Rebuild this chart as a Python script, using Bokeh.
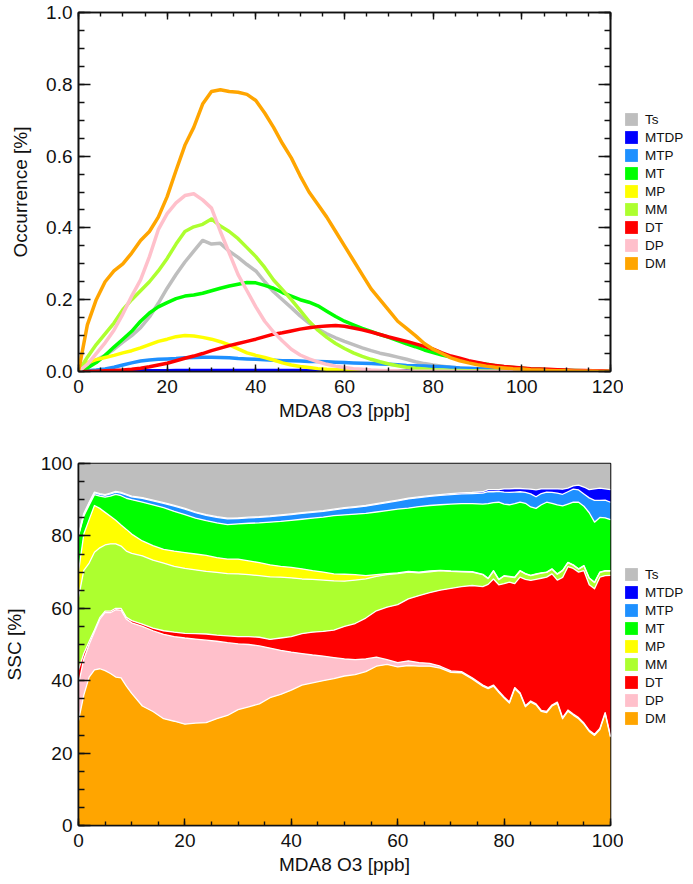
from bokeh.plotting import figure
from bokeh.layouts import column, row
from bokeh.models import (Range1d, SingleIntervalTicker, LinearAxis, Legend, LegendItem,
                          PrintfTickFormatter, CustomJSTickFormatter)
from bokeh.embed import file_html
from bokeh.resources import INLINE

FONT = "Liberation Sans"

classes = ["Ts", "MTDP", "MTP", "MT", "MP", "MM", "DT", "DP", "DM"]
colors = {"Ts": "#bebebe", "MTDP": "#0000ff", "MTP": "#1e90ff", "MT": "#00ff00",
          "MP": "#ffff00", "MM": "#adff2f", "DT": "#ff0000", "DP": "#ffc0cb", "DM": "#ffa500"}

# ---------------- top panel: occurrence [%] vs MDA8 O3 (0..120 ppb, every 2 ppb)
x_occ = list(range(0, 121, 2))
occ_DM = [0.0, 0.13, 0.20, 0.25, 0.28, 0.30, 0.33, 0.365, 0.39, 0.43,
          0.487, 0.56, 0.63, 0.68, 0.745, 0.78, 0.785, 0.78, 0.778, 0.772,
          0.755, 0.72, 0.68, 0.635, 0.595, 0.545, 0.50, 0.465, 0.43, 0.39,
          0.35, 0.31, 0.27, 0.23, 0.20, 0.17, 0.14, 0.12, 0.10, 0.078,
          0.062, 0.05, 0.038, 0.03, 0.024, 0.019, 0.015, 0.012, 0.01, 0.008,
          0.007, 0.005, 0.004, 0.003, 0.002, 0.002, 0.001, 0.001, 0.001, 0.0,
          0.0]
occ_DP = [0.0, 0.02, 0.05, 0.08, 0.115, 0.16, 0.21, 0.255, 0.32, 0.395,
          0.44, 0.47, 0.49, 0.495, 0.478, 0.455, 0.39, 0.33, 0.27, 0.225,
          0.18, 0.14, 0.11, 0.085, 0.062, 0.046, 0.035, 0.027, 0.02, 0.015,
          0.011, 0.008, 0.006, 0.004, 0.003, 0.002, 0.002, 0.001, 0.001, 0.001,
          0.001, 0.001, 0.001, 0.0, 0.0, 0.0, 0.0, 0.0, 0.0, 0.0,
          0.0, 0.0, 0.0, 0.0, 0.0, 0.0, 0.0, 0.0, 0.0, 0.0,
          0.0]
occ_DT = [0.0, 0.0, 0.001, 0.002, 0.003, 0.004, 0.006, 0.009, 0.013, 0.018,
          0.023, 0.03, 0.037, 0.043, 0.05, 0.058, 0.065, 0.072, 0.078, 0.084,
          0.09, 0.097, 0.104, 0.108, 0.113, 0.118, 0.122, 0.125, 0.127, 0.128,
          0.126, 0.121, 0.116, 0.11, 0.103, 0.096, 0.09, 0.084, 0.077, 0.07,
          0.062, 0.052, 0.043, 0.037, 0.03, 0.025, 0.02, 0.017, 0.014, 0.012,
          0.01, 0.008, 0.007, 0.006, 0.005, 0.004, 0.003, 0.003, 0.002, 0.002,
          0.001]
occ_MM = [0.0, 0.04, 0.075, 0.105, 0.135, 0.172, 0.2, 0.225, 0.25, 0.28,
          0.315, 0.355, 0.39, 0.403, 0.41, 0.425, 0.405, 0.39, 0.37, 0.345,
          0.32, 0.29, 0.255, 0.228, 0.2, 0.17, 0.14, 0.115, 0.095, 0.078,
          0.064, 0.052, 0.042, 0.034, 0.027, 0.021, 0.016, 0.012, 0.009, 0.007,
          0.005, 0.004, 0.003, 0.003, 0.002, 0.002, 0.001, 0.001, 0.001, 0.001,
          0.0, 0.0, 0.0, 0.0, 0.0, 0.0, 0.0, 0.0, 0.0, 0.0,
          0.0]
occ_MP = [0.0, 0.025, 0.033, 0.039, 0.045, 0.052, 0.058, 0.066, 0.075, 0.084,
          0.09, 0.097, 0.1, 0.099, 0.095, 0.09, 0.083, 0.074, 0.063, 0.052,
          0.045, 0.039, 0.032, 0.024, 0.018, 0.014, 0.011, 0.008, 0.006, 0.005,
          0.004, 0.003, 0.002, 0.002, 0.001, 0.001, 0.001, 0.0, 0.0, 0.0,
          0.0, 0.0, 0.0, 0.0, 0.0, 0.0, 0.0, 0.0, 0.0, 0.0,
          0.0, 0.0, 0.0, 0.0, 0.0, 0.0, 0.0, 0.0, 0.0, 0.0,
          0.0]
occ_MT = [0.0, 0.01, 0.025, 0.045, 0.068, 0.09, 0.112, 0.14, 0.163, 0.18,
          0.192, 0.203, 0.21, 0.213, 0.218, 0.225, 0.232, 0.238, 0.243, 0.248,
          0.247, 0.24, 0.232, 0.22, 0.21, 0.2, 0.193, 0.183, 0.168, 0.153,
          0.14, 0.13, 0.12, 0.112, 0.103, 0.095, 0.086, 0.077, 0.069, 0.06,
          0.053, 0.046, 0.04, 0.034, 0.028, 0.024, 0.02, 0.016, 0.013, 0.011,
          0.009, 0.007, 0.006, 0.005, 0.004, 0.003, 0.003, 0.002, 0.002, 0.001,
          0.001]
occ_MTP = [0.0, 0.002, 0.004, 0.007, 0.012, 0.018, 0.024, 0.029, 0.032, 0.034,
           0.035, 0.036, 0.038, 0.039, 0.04, 0.04, 0.039, 0.038, 0.036, 0.035,
           0.034, 0.033, 0.031, 0.03, 0.03, 0.029, 0.028, 0.028, 0.027, 0.026,
           0.025, 0.024, 0.023, 0.022, 0.021, 0.02, 0.019, 0.017, 0.016, 0.015,
           0.014, 0.013, 0.012, 0.01, 0.009, 0.008, 0.007, 0.006, 0.005, 0.004,
           0.003, 0.002, 0.002, 0.002, 0.001, 0.001, 0.001, 0.001, 0.0, 0.0,
           0.0]
occ_MTDP = [0.0, 0.0, 0.001, 0.001, 0.001, 0.001, 0.002, 0.002, 0.002, 0.002,
            0.002, 0.003, 0.003, 0.003, 0.003, 0.003, 0.003, 0.003, 0.003, 0.003,
            0.003, 0.003, 0.003, 0.003, 0.003, 0.003, 0.003, 0.003, 0.003, 0.003,
            0.003, 0.003, 0.003, 0.002, 0.002, 0.002, 0.002, 0.002, 0.002, 0.002,
            0.002, 0.002, 0.002, 0.001, 0.001, 0.001, 0.001, 0.001, 0.001, 0.001,
            0.001, 0.001, 0.001, 0.0, 0.0, 0.0, 0.0, 0.0, 0.0, 0.0,
            0.0]
occ_Ts = [0.0, 0.015, 0.032, 0.045, 0.062, 0.082, 0.1, 0.122, 0.152, 0.19,
          0.232, 0.27, 0.305, 0.335, 0.365, 0.355, 0.357, 0.335, 0.318, 0.298,
          0.28, 0.25, 0.222, 0.2, 0.178, 0.155, 0.135, 0.118, 0.105, 0.094,
          0.084, 0.075, 0.066, 0.058, 0.051, 0.046, 0.04, 0.034, 0.027, 0.022,
          0.018, 0.015, 0.012, 0.01, 0.008, 0.007, 0.006, 0.005, 0.004, 0.004,
          0.003, 0.003, 0.003, 0.002, 0.002, 0.002, 0.002, 0.001, 0.001, 0.001,
          0.001]

# ---------------- bottom panel: cumulative SSC share [%] (top edge of each stacked band)
x_ssc = [0, 1, 2, 3, 4, 5, 6, 7, 8, 9, 10,
         12, 14, 16, 18, 20, 22, 24, 26, 28, 30, 32, 34, 36, 38, 40, 42, 44, 46, 48,
         50, 52, 54, 56, 58, 60, 62, 64, 66, 68, 70, 72, 74, 76,
         77, 78, 79, 80, 81, 82, 83, 84, 85, 86, 87, 88, 89, 90, 91, 92, 93, 94, 95,
         96, 97, 98, 99, 100]
top_DM = [29.0, 36.0, 41.0, 43.0, 43.3, 42.8, 42.0, 41.0, 40.8, 38.5, 36.5,
          33.0, 31.5, 29.5, 28.8, 28.0, 28.3, 28.4, 29.5, 30.4, 32.0, 32.8, 33.6, 35.3, 36.2, 37.4,
          38.8, 39.4, 40.0, 40.6, 41.3, 41.7, 42.5, 44.0, 44.5, 43.8, 44.2, 44.0, 44.0, 43.5, 42.3,
          42.2, 40.5, 38.5,
          37.8, 38.5, 36.8, 35.2, 33.8, 37.8, 36.4, 32.8, 34.1, 33.3, 31.5, 31.2, 33.0, 33.8,
          29.5, 31.6, 30.5, 29.5, 28.0, 26.0, 24.9, 26.5, 30.9, 24.4]
top_DP = [39.0, 46.0, 50.0, 53.5, 57.0, 58.9, 58.8, 59.6, 59.5, 57.0, 56.0,
          55.0, 53.8, 52.8, 52.2, 51.8, 51.5, 51.2, 50.9, 50.5, 50.2, 50.0, 49.6, 49.0, 48.4, 47.9,
          47.5, 47.1, 46.8, 46.4, 46.0, 45.8, 46.0, 46.5, 45.8, 45.0, 45.5, 45.0, 44.8, 44.0, 42.7,
          42.5, 40.8, 38.8,
          38.1, 38.8, 37.1, 35.5, 34.1, 38.1, 36.7, 33.1, 34.4, 33.6, 31.8, 31.5, 33.3, 34.1,
          29.8, 31.9, 30.8, 29.8, 28.3, 26.3, 25.2, 26.8, 31.2, 24.7]
top_DT = [43.0, 47.5, 50.8, 54.0, 57.4, 59.2, 59.2, 60.0, 60.0, 57.5, 56.6,
          55.6, 54.5, 53.8, 53.4, 53.1, 53.0, 52.9, 52.6, 52.4, 52.2, 52.2, 52.0, 51.4, 51.8, 52.2,
          53.0, 53.4, 53.6, 54.0, 55.0, 55.8, 57.3, 59.3, 60.3, 61.0, 62.6, 63.5, 64.3, 65.0, 65.5,
          66.0, 66.3, 66.0,
          66.6, 68.1, 66.5, 66.8, 67.2, 66.8, 68.6, 68.0, 67.7, 68.0, 68.3, 68.6, 69.5, 67.8,
          68.5, 71.5, 71.0, 70.0, 70.4, 66.5, 65.4, 68.6, 69.0, 69.1]
top_MM = [63.0, 70.5, 72.5, 75.5, 76.7, 77.5, 77.8, 77.8, 77.2, 75.8, 75.2,
          74.5, 73.3, 72.5, 71.6, 71.0, 70.6, 70.2, 69.9, 69.6, 69.5, 69.3, 69.0, 68.7, 68.6, 68.4,
          68.1, 68.0, 67.8, 67.6, 67.5, 67.8, 68.1, 68.8, 69.3, 69.6, 70.0, 69.8, 70.1, 70.4, 70.2,
          70.1, 70.0, 69.3,
          68.2, 70.3, 67.9, 68.9, 68.7, 68.5, 70.3, 69.5, 69.0, 69.4, 69.7, 69.9, 70.8, 69.4,
          70.4, 72.6, 71.9, 70.8, 71.7, 68.3, 67.1, 69.9, 70.3, 70.3]
top_MP = [70.0, 80.5, 84.5, 88.4, 87.6, 86.5, 85.4, 84.3, 83.0, 81.8, 80.5,
          78.6, 77.3, 76.3, 75.8, 75.4, 75.0, 74.6, 74.0, 73.6, 73.6, 73.1, 72.6, 72.0, 71.6, 71.3,
          70.9, 70.4, 70.0, 69.5, 69.4, 69.3, 69.0, 69.3, 69.6, 69.8, 70.2, 70.0, 70.3, 70.5, 70.3,
          70.2, 70.1, 69.4,
          68.3, 70.4, 68.0, 69.0, 68.8, 68.6, 70.4, 69.6, 69.1, 69.5, 69.8, 70.0, 70.9, 69.5,
          70.5, 72.7, 72.0, 70.9, 71.8, 68.4, 67.2, 70.0, 70.4, 70.4]
top_MT = [80.0, 85.5, 88.5, 91.4, 91.0, 90.7, 91.0, 91.5, 91.1, 90.4, 90.0,
          89.3, 88.6, 87.8, 86.8, 85.9, 84.9, 84.2, 83.6, 83.1, 83.3, 83.5, 83.6, 83.8, 84.0, 84.3,
          84.6, 84.9, 85.2, 85.6, 85.8, 86.0, 86.2, 86.6, 87.0, 87.4, 87.7, 88.1, 88.4, 88.6, 88.8,
          88.9, 88.9, 88.8,
          88.9, 89.2, 89.3, 88.8, 88.6, 88.9, 89.3, 89.0, 88.0, 87.6, 88.6, 89.3, 89.0, 88.6,
          88.3, 88.8, 89.3, 89.3, 88.2, 86.4, 83.8, 85.1, 85.0, 84.5]
top_MTP = [80.2, 85.9, 89.0, 91.9, 91.5, 91.2, 91.6, 92.1, 91.8, 91.3, 90.8,
           90.4, 89.7, 89.0, 88.2, 87.4, 86.4, 85.7, 85.1, 84.7, 84.8, 85.0, 85.1, 85.3, 85.6, 85.9,
           86.2, 86.5, 86.8, 87.2, 87.6, 87.9, 88.2, 88.7, 89.2, 89.7, 90.2, 90.6, 90.9, 91.2, 91.4,
           91.6, 91.7, 91.8,
           92.2, 92.2, 92.3, 92.1, 92.0, 92.1, 92.2, 92.0, 91.6, 90.8, 91.7, 92.1, 92.0, 91.8,
           91.5, 92.2, 92.9, 92.7, 91.6, 90.5, 89.8, 89.8, 89.9, 89.3]
top_MTDP = [80.4, 86.2, 89.3, 92.1, 91.7, 91.4, 91.8, 92.3, 92.0, 91.5, 91.0,
            90.6, 89.9, 89.2, 88.4, 87.6, 86.6, 85.9, 85.3, 84.9, 85.0, 85.2, 85.3, 85.5, 85.8, 86.1,
            86.4, 86.7, 87.0, 87.4, 87.8, 88.1, 88.4, 88.9, 89.4, 89.9, 90.4, 90.8, 91.1, 91.4, 91.7,
            91.9, 92.0, 92.2,
            92.8, 92.8, 92.8, 93.0, 93.0, 93.1, 93.1, 93.0, 92.9, 92.7, 93.0, 93.0, 93.0, 93.0,
            92.9, 93.2, 93.8, 94.0, 93.5, 92.8, 93.0, 93.2, 93.0, 92.8]
top_Ts = [100.0] * len(x_ssc)


def style_axis(ax, major_in, minor_in):
    ax.major_tick_in = major_in
    ax.major_tick_out = 0
    ax.minor_tick_in = minor_in
    ax.minor_tick_out = 0
    ax.major_tick_line_color = "#111111"
    ax.minor_tick_line_color = "#111111"
    ax.major_tick_line_width = 1.4
    ax.minor_tick_line_width = 1.4
    ax.axis_line_color = "#111111"
    ax.axis_line_width = 1.6
    ax.major_label_text_font = FONT
    ax.major_label_text_font_size = "19px"
    ax.major_label_text_color = "#111111"
    ax.axis_label_text_font = FONT
    ax.axis_label_text_font_size = "19px"
    ax.axis_label_text_font_style = "normal"
    ax.axis_label_text_color = "#111111"


def blank_axis(ticker, major_in, minor_in):
    ax = LinearAxis(ticker=ticker, formatter=CustomJSTickFormatter(code="return ''"))
    style_axis(ax, major_in, minor_in)
    ax.major_label_text_font_size = "0px"
    ax.major_label_standoff = 0
    return ax


LEG_W = 70


def legend_figure(height, xr, yr, xs, series, loc):
    """A narrow side figure that only carries the legend (zero-height areas give square swatches)."""
    f = figure(width=LEG_W, height=height, x_range=xr, y_range=yr, x_axis_type=None, y_axis_type=None,
               output_backend="svg", toolbar_location=None,
               min_border_left=0, min_border_right=0, min_border_top=0, min_border_bottom=0)
    f.outline_line_color = None
    f.xgrid.visible = False
    f.ygrid.visible = False
    rends = {}
    for c in classes:
        rends[c] = f.varea(x=xs, y1=series[c], y2=series[c], fill_color=colors[c], fill_alpha=1.0)
    lg = Legend(items=[LegendItem(label=c, renderers=[rends[c]]) for c in classes],
                location=loc, margin=0, padding=0, spacing=2,
                glyph_width=16, glyph_height=16, label_height=16, label_standoff=6,
                label_text_font=FONT, label_text_font_size="13.5px",
                label_text_color="#111111", border_line_color=None,
                background_fill_alpha=0)
    f.add_layout(lg)
    return f


# ---------------- top figure
p1 = figure(width=693 - LEG_W, height=440, x_range=Range1d(0, 120), y_range=Range1d(0, 1),
            output_backend="svg", toolbar_location=None,
            min_border_left=78, min_border_right=693 - LEG_W - 610,
            min_border_top=12, min_border_bottom=69)
p1.xgrid.visible = False
p1.ygrid.visible = False
p1.outline_line_color = "#111111"
p1.outline_line_width = 1.6
p1.xaxis.ticker = SingleIntervalTicker(interval=20, num_minor_ticks=4)
p1.yaxis.ticker = SingleIntervalTicker(interval=0.2, num_minor_ticks=4)
p1.yaxis.formatter = PrintfTickFormatter(format="%.1f")
for ax in p1.xaxis:
    style_axis(ax, 7, 4)
    ax.axis_label = "MDA8 O3 [ppb]"
    ax.major_label_standoff = 8
    ax.axis_label_standoff = 4
for ax in p1.yaxis:
    style_axis(ax, 12, 6)
    ax.axis_label = "Occurrence [%]"
    ax.major_label_standoff = 6
    ax.axis_label_standoff = 12
p1.add_layout(blank_axis(SingleIntervalTicker(interval=20, num_minor_ticks=4), 7, 4), "above")
p1.add_layout(blank_axis(SingleIntervalTicker(interval=0.2, num_minor_ticks=4), 12, 6), "right")

occ = {"Ts": occ_Ts, "MTDP": occ_MTDP, "MTP": occ_MTP, "MT": occ_MT, "MP": occ_MP,
       "MM": occ_MM, "DT": occ_DT, "DP": occ_DP, "DM": occ_DM}
for c in ["Ts", "MTDP", "MTP", "MT", "MP", "MM", "DT", "DP", "DM"]:
    p1.line(x_occ, occ[c], line_color=colors[c], line_width=3.5, line_join="round")

l1 = legend_figure(440, Range1d(0, 120), Range1d(0, 1), x_occ, occ, (0, 100))

# ---------------- bottom figure
p2 = figure(width=693 - LEG_W, height=444, x_range=Range1d(0, 100), y_range=Range1d(0, 100),
            output_backend="svg", toolbar_location=None,
            min_border_left=78, min_border_right=693 - LEG_W - 610,
            min_border_top=23, min_border_bottom=59)
p2.xgrid.visible = False
p2.ygrid.visible = False
p2.outline_line_color = "#111111"
p2.outline_line_width = 1.6
p2.xaxis.ticker = SingleIntervalTicker(interval=20, num_minor_ticks=4)
p2.yaxis.ticker = SingleIntervalTicker(interval=20, num_minor_ticks=4)
for ax in p2.xaxis:
    style_axis(ax, 7, 4)
    ax.axis_label = "MDA8 O3 [ppb]"
    ax.major_label_standoff = 8
    ax.axis_label_standoff = 4
for ax in p2.yaxis:
    style_axis(ax, 12, 6)
    ax.axis_label = "SSC [%]"
    ax.major_label_standoff = 6
    ax.axis_label_standoff = 13

bands = [("DM", None, top_DM), ("DP", top_DM, top_DP), ("DT", top_DP, top_DT),
         ("MM", top_DT, top_MM), ("MP", top_MM, top_MP), ("MT", top_MP, top_MT),
         ("MTP", top_MT, top_MTP), ("MTDP", top_MTP, top_MTDP), ("Ts", top_MTDP, top_Ts)]
for c, lo, hi in bands:
    y1 = lo if lo is not None else [0.0] * len(x_ssc)
    p2.varea(x=x_ssc, y1=y1, y2=hi, fill_color=colors[c])
for edge in [top_DM, top_DP, top_DT, top_MM, top_MP, top_MT, top_MTP, top_MTDP]:
    p2.line(x_ssc, edge, line_color="white", line_width=1.3, line_join="round")

tops = {"Ts": top_Ts, "MTDP": top_MTDP, "MTP": top_MTP, "MT": top_MT, "MP": top_MP,
        "MM": top_MM, "DT": top_DT, "DP": top_DP, "DM": top_DM}
l2 = legend_figure(444, Range1d(0, 100), Range1d(0, 100), x_ssc, tops, (0, 99))

layout = column(row(p1, l1, spacing=0), row(p2, l2, spacing=0), spacing=0)
open("out.html", "w").write(file_html(layout, INLINE))
